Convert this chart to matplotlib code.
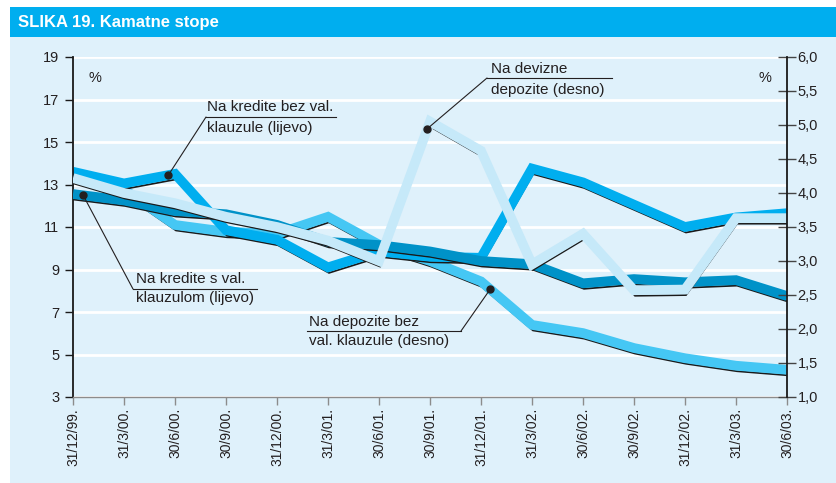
import numpy as np
import matplotlib
matplotlib.use('Agg')
import matplotlib.pyplot as plt
from matplotlib.patches import Rectangle
from matplotlib.lines import Line2D
from matplotlib.transforms import offset_copy

plt.rcParams['font.family'] = ['Liberation Sans', 'DejaVu Sans']

# ---------------- data ----------------
dates = ['31/12/99.', '31/3/00.', '30/6/00.', '30/9/00.', '31/12/00.', '31/3/01.',
         '30/6/01.', '30/9/01.', '31/12/01.', '31/3/02.', '30/6/02.', '30/9/02.',
         '31/12/02.', '31/3/03.', '30/6/03.']
# left axis (%)
krediti_bez_klauzule = [13.6, 13.05, 13.5, 10.85, 10.4, 9.1, 9.85, 9.6, 9.55,
                        13.75, 13.1, 12.05, 11.0, 11.45, 11.65]
krediti_s_klauzulom = [12.55, 12.25, 11.75, 11.6, 11.1, 10.3, 10.15, 9.85, 9.4,
                       9.25, 8.35, 8.55, 8.4, 8.5, 7.75]
# right axis (%)
devizni_depoziti = [4.22, 4.0, 3.85, 3.65, 3.5, 3.3, 3.0, 5.05, 4.62,
                    2.95, 3.4, 2.57, 2.58, 3.63, 3.63]
depoziti_bez_klauzule = [4.25, 4.05, 3.53, 3.43, 3.4, 3.65, 3.24, 3.0, 2.7,
                         2.06, 1.94, 1.72, 1.57, 1.46, 1.4]

left_ticks = [3, 5, 7, 9, 11, 13, 15, 17, 19]
right_ticks = [1.0, 1.5, 2.0, 2.5, 3.0, 3.5, 4.0, 4.5, 5.0, 5.5, 6.0]
right_labels = ['1,0', '1,5', '2,0', '2,5', '3,0', '3,5', '4,0', '4,5', '5,0', '5,5', '6,0']

title = 'SLIKA 19. Kamatne stope'

# ---------------- figure ----------------
W, H = 837, 483
fig = plt.figure(figsize=(W / 100, H / 100), dpi=100, facecolor='white')

def fx(px):
    return px / W

def fy(py):
    return 1 - py / H

BG = '#DFF1FB'
TITLE_BG = '#00AEEF'
TXT = '#231F20'

fig.add_artist(Rectangle((fx(10), 0), 1 - fx(10), fy(37), transform=fig.transFigure,
                         facecolor=BG, edgecolor='none', zorder=0))
fig.add_artist(Rectangle((fx(10), fy(37)), 1 - fx(10), fy(7) - fy(37), transform=fig.transFigure,
                         facecolor=TITLE_BG, edgecolor='none', zorder=0))
fig.text(fx(18), fy(23), title, color='white', fontsize=12, fontweight='bold',
         va='center', ha='left')

ax = fig.add_axes([fx(73), fy(397), fx(787) - fx(73), fy(57) - fy(397)])
ax.set_facecolor('none')
ax2 = ax.twinx()
ax2.set_facecolor('none')

x = np.arange(len(dates))
ax.set_xlim(0, len(dates) - 1)
ax.set_ylim(3, 19)
ax2.set_ylim(1, 6)

# grid
for v in left_ticks:
    ax.axhline(v, color='white', lw=2, zorder=0.5)

series = [
    (depoziti_bez_klauzule, ax2, '#45C7F4', 1),
    (krediti_bez_klauzule, ax, '#00AEEF', 2),
    (krediti_s_klauzulom, ax, '#0092C8', 3),
    (devizni_depoziti, ax2, '#C6E9F9', 4),
]
for vals, a, col, z in series:
    tr = a.transData
    sh = offset_copy(tr, fig=fig, x=1, y=-5.5, units='dots')
    ax.plot(x, vals, color='#1A1A1A', lw=1.3, transform=sh, zorder=z - 0.1,
            solid_joinstyle='miter')
    ax.plot(x, vals, color=col, lw=7.0, transform=tr, zorder=z,
            solid_joinstyle='miter', solid_capstyle='butt')

# axes styling
for s in ['top']:
    ax.spines[s].set_visible(False)
    ax2.spines[s].set_visible(False)
ax2.spines['left'].set_visible(False)
ax2.spines['bottom'].set_visible(False)
ax.spines['right'].set_visible(False)
ax.spines['left'].set_color('#1A1A1A')
ax.spines['left'].set_linewidth(1.3)
ax2.spines['right'].set_color('#1A1A1A')
ax2.spines['right'].set_linewidth(1.3)
ax.spines['bottom'].set_color('#8C8C8C')
ax.spines['bottom'].set_linewidth(1.0)

ax.set_yticks(left_ticks)
ax.set_yticklabels([str(v) for v in left_ticks])
ax.tick_params(axis='y', direction='out', length=6, width=1, color='#1A1A1A',
               labelsize=10.5, labelcolor=TXT, pad=4)
ax2.set_yticks(right_ticks)
ax2.set_yticklabels(right_labels)
ax2.tick_params(axis='y', direction='inout', length=13, width=1, color='#444444',
                labelsize=10.5, labelcolor=TXT, pad=1)
ax.set_xticks(x)
ax.set_xticklabels(dates, rotation=90, va='top', ha='center')
ax.tick_params(axis='x', direction='out', length=6, width=1, color='#8C8C8C',
               labelsize=10, labelcolor=TXT, pad=2)

fig.text(fx(95), fy(78), '%', fontsize=10.5, color=TXT, ha='center', va='center')
fig.text(fx(765), fy(78), '%', fontsize=10.5, color=TXT, ha='center', va='center')

# annotations
def annotate(a, xd, vals, end_px, ul, lines, tx, ty1, ty2):
    yd = float(np.interp(xd, x, vals))
    a.annotate('', xy=(xd, yd), xycoords='data',
               xytext=(end_px[0], H - end_px[1]), textcoords='figure pixels',
               arrowprops=dict(arrowstyle='-', color=TXT, lw=0.8, shrinkA=0, shrinkB=0),
               zorder=10, annotation_clip=False)
    a.plot([xd], [yd], 'o', color=TXT, ms=5, zorder=11, clip_on=False)
    fig.add_artist(Line2D([fx(ul[0]), fx(ul[1])], [fy(ul[2]), fy(ul[2])],
                          transform=fig.transFigure, color=TXT, lw=0.8))
    fig.text(fx(tx), fy(ty1), lines[0], fontsize=11, color=TXT, ha='left', va='center')
    fig.text(fx(tx), fy(ty2), lines[1], fontsize=11, color=TXT, ha='left', va='center')

annotate(ax, 1.87, krediti_bez_klauzule, (206, 117), (206, 336, 117),
         ('Na kredite bez val.', 'klauzule (lijevo)'), 207, 107, 128)
annotate(ax2, 6.95, devizni_depoziti, (487, 78), (487, 612, 78),
         ('Na devizne', 'depozite (desno)'), 491, 69, 90)
annotate(ax, 0.2, krediti_s_klauzulom, (133, 289), (133, 257, 289),
         ('Na kredite s val.', 'klauzulom (lijevo)'), 136, 279, 298)
annotate(ax2, 8.18, depoziti_bez_klauzule, (461, 331), (307, 461, 331),
         ('Na depozite bez', 'val. klauzule (desno)'), 309, 322, 341)

fig.savefig('out.png', dpi=100, facecolor='white')
